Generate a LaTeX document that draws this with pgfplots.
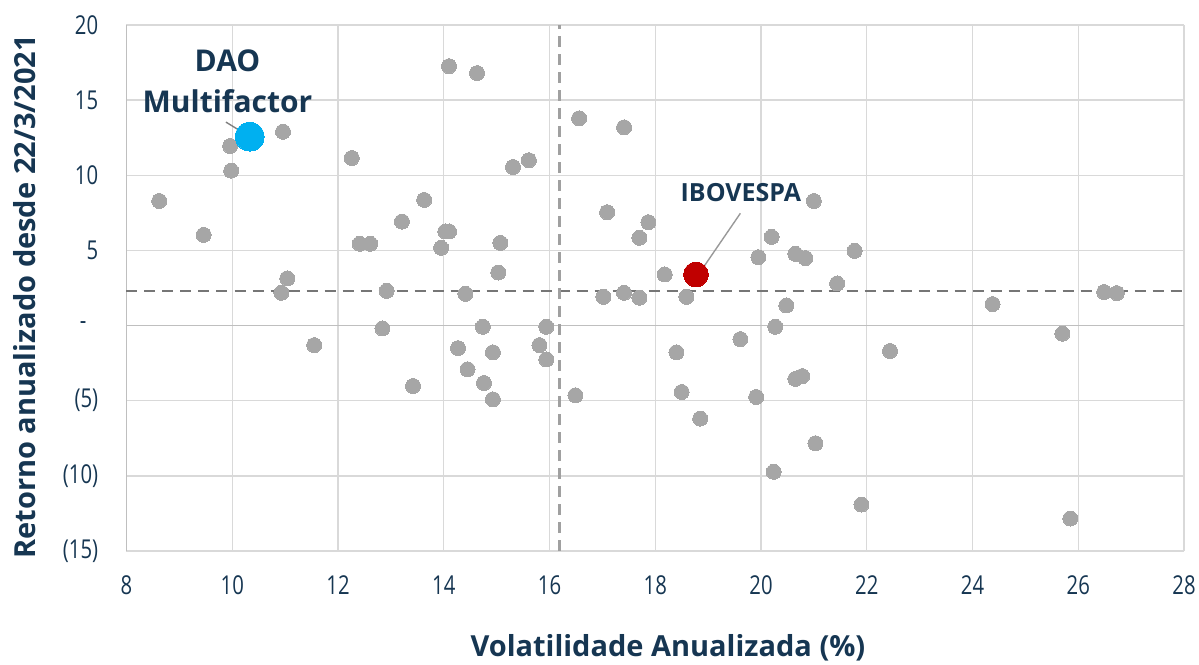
\documentclass[border=0pt]{standalone}
\usepackage{fontspec}
\setmainfont{Open Sans}
\newfontfamily\condfont[FakeStretch=0.78]{Open Sans}
\usepackage{pgfplots}
\pgfplotsset{compat=1.18}
\definecolor{navy}{RGB}{22,54,82}
\definecolor{ptgray}{RGB}{166,166,166}
\definecolor{gridgray}{RGB}{217,217,217}
\definecolor{zerogray}{RGB}{191,191,191}
\definecolor{dashgray}{RGB}{118,118,118}
\definecolor{vdashgray}{RGB}{160,160,160}
\definecolor{daoblue}{RGB}{0,176,240}
\definecolor{iboved}{RGB}{192,0,0}
\begin{document}
\begin{tikzpicture}
\path[use as bounding box] (-63.25pt,-56.5pt) rectangle (536.25pt,275.5pt);
\begin{axis}[
  at={(0,0)}, anchor=south west,
  scale only axis, width=528.75pt, height=263pt,
  xmin=8, xmax=28, ymin=-15, ymax=20,
  xtick={8,10,...,28}, ytick={-15,-10,-5,0,5,10,15,20},
  yticklabels={(15),(10),(5),-\hphantom{5},5,10,15,20},
  /pgf/number format/assume math mode=true,
  major tick length=0pt,
  axis line style={draw=none},
  grid=major, major grid style={gridgray, line width=0.7pt},
  tick label style={font=\condfont\fontsize{13}{15}\selectfont, text=navy},
  yticklabel style={inner sep=0pt, xshift=-14pt},
  xticklabel style={inner sep=0pt, yshift=-12pt},
  xlabel={Volatilidade Anualizada (\%)},
  ylabel={Retorno anualizado desde 22/3/2021},
  xlabel style={at={(axis description cs:0.512,-0.184)}, anchor=center, font=\bfseries\fontsize{14.5}{16}\selectfont, text=navy},
  ylabel style={at={(axis description cs:-0.096,0.483)}, anchor=center, font=\bfseries\fontsize{14.5}{16}\selectfont, text=navy},
  clip=false,
]
% axis lines
\addplot[zerogray, line width=0.9pt] coordinates {(8,0) (28,0)};
\addplot[zerogray, line width=0.9pt] coordinates {(8,-15) (8,20)};
% dashed averages
\addplot[dashgray, line width=1.3pt, dash pattern=on 5.5pt off 3.5pt] coordinates {(8,2.31) (28,2.31)};
\addplot[vdashgray, line width=1.3pt, dash pattern=on 5.5pt off 3.5pt] coordinates {(16.19,-15) (16.19,20)};
% peers
\addplot[only marks, color=ptgray, mark=*, mark size=3.75pt, mark options={draw=ptgray, fill=ptgray, line width=0pt}] coordinates {
(14.10,17.26) (14.63,16.80) (10.96,12.90) (9.96,11.95) (9.98,10.31)
(12.26,11.15) (15.31,10.55) (15.61,11.00) (8.62,8.29) (9.46,6.03)
(13.63,8.36) (13.21,6.92) (12.41,5.44) (12.61,5.44) (14.03,6.26)
(14.10,6.26) (13.95,5.17) (15.07,5.50) (15.03,3.53) (11.04,3.14)
(10.93,2.18) (12.92,2.31) (14.41,2.11) (12.84,-0.19) (14.74,-0.08)
(11.55,-1.30) (14.27,-1.50) (14.93,-1.78) (14.45,-2.91) (14.76,-3.82)
(14.93,-4.91) (13.42,-4.02) (15.94,-0.08) (15.81,-1.30) (15.94,-2.25)
(16.49,-4.64) (18.40,-1.78) (18.50,-4.42) (18.85,-6.19) (19.61,-0.90)
(20.27,-0.08) (20.48,1.34) (19.91,-4.75) (20.65,-3.55) (20.78,-3.36)
(21.03,-7.83) (20.24,-9.73) (21.90,-11.91) (22.44,-1.69) (16.56,13.79)
(17.41,13.19) (17.09,7.54) (17.87,6.88) (17.70,5.84) (18.18,3.40)
(17.02,1.91) (17.41,2.18) (17.70,1.85) (18.59,1.91) (21.00,8.29)
(20.20,5.90) (19.95,4.55) (20.65,4.77) (20.84,4.49) (21.77,4.97)
(21.44,2.80) (24.38,1.43) (25.70,-0.54) (26.49,2.23) (26.73,2.16)
(25.85,-12.84)
};
% DAO Multifactor
\addplot[only marks, color=daoblue, mark=*, mark size=7.2pt, mark options={draw=daoblue, fill=daoblue, line width=0pt}] coordinates {(10.33,12.57)};
% IBOVESPA
\addplot[only marks, color=iboved, mark=*, mark size=6.2pt, mark options={draw=iboved, fill=iboved, line width=0pt}] coordinates {(18.77,3.40)};
% leader lines
\draw[gray, line width=0.7pt] (axis cs:9.88,13.54) -- (axis cs:10.33,12.57);
\draw[gray!80, line width=0.7pt] (axis cs:19.61,7.47) -- (axis cs:18.81,3.36);
% labels
\node[font=\bfseries\fontsize{15}{20.5}\selectfont, text=navy, align=center] at (axis cs:9.91,16.25) {DAO\\Multifactor};
\node[font=\bfseries\fontsize{12.5}{14}\selectfont, text=navy] at (axis cs:19.62,8.85) {IBOVESPA};
\end{axis}
\end{tikzpicture}
\end{document}
